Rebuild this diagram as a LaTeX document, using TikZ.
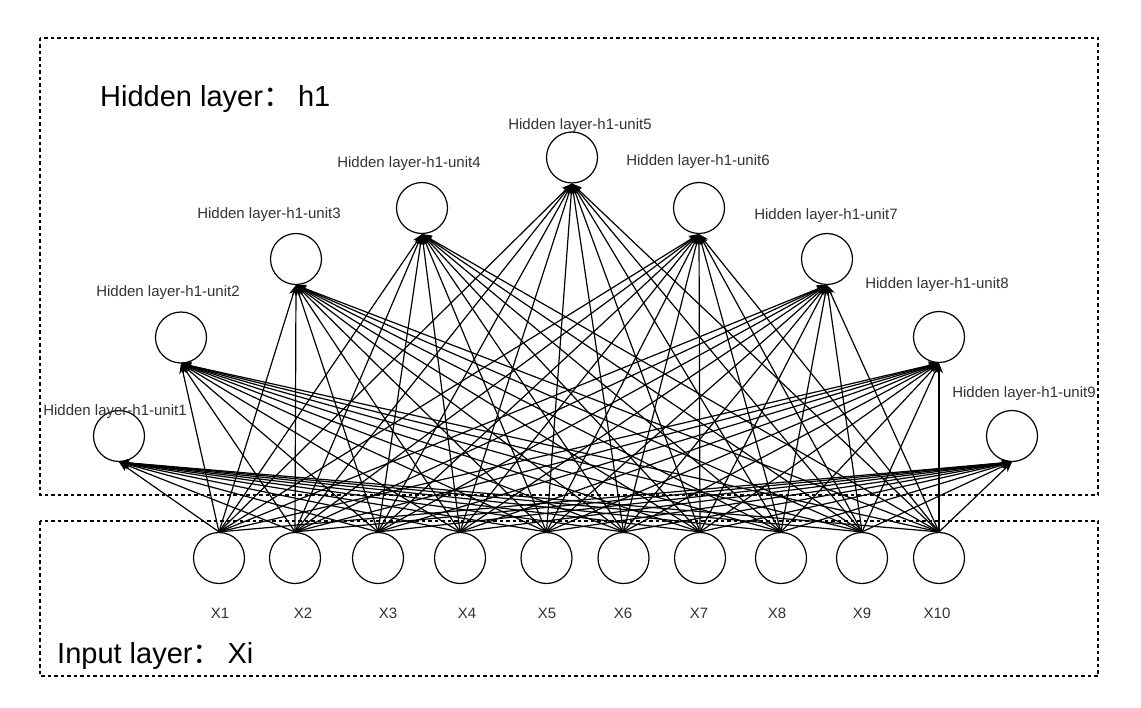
\documentclass[tikz,border=0pt]{standalone}
\usepackage{fontspec}
\setmainfont{Liberation Sans}
\newfontfamily\cjk{Noto Sans CJK SC}
\usetikzlibrary{arrows.meta}
\begin{document}
\begin{tikzpicture}[x=1pt,y=-1pt,
  unit/.style={circle,draw,line width=1.2pt,minimum size=51pt,inner sep=0pt},
  lbl/.style={font=\fontsize{15}{17}\selectfont,text=black!80,inner sep=0pt,anchor=base},
  title/.style={font=\fontsize{29}{33}\selectfont,inner sep=0pt,anchor=base west},
  box/.style={draw,line width=1.1pt,dash pattern=on 3.5pt off 3pt},
  conn/.style={line width=1.2pt,-{Stealth[length=10pt,width=8pt,inset=3pt]}}]
\useasboundingbox (0,0) rectangle (1141,708);
\fill[white] (0,0) rectangle (1141,708);
% layer boxes
\draw[box] (40,38) rectangle (1098,495);
\draw[box] (40,521) rectangle (1098,676);
\node[title] (ht) at (100,107) {Hidden layer{\cjk ：}\hspace{6pt}h1};
\node[title] (it) at (57,663) {Input layer{\cjk ：}\hspace{6pt}Xi};
% hidden units
\foreach \i/\x/\y/\lx/\ly in {1/119/436/115/416, 2/181/337.5/168/297, 3/296/259/269/219, 4/422/208/409/168, 5/572/157.5/580/130, 6/699/208/698/166, 7/827/259/826/220, 8/939/337/937/289, 9/1012/436/1024/398}{
  \node[unit] (h\i) at (\x,\y) {};
  \node[lbl] (hl\i) at (\lx,\ly) {Hidden layer-h1-unit\i};
}
% input units
\foreach \i/\x/\lx in {1/219/220, 2/295/303, 3/378/388, 4/460/467, 5/546.5/547, 6/623.5/623, 7/700/699, 8/781/777, 9/862/862, 10/939/937}{
  \node[unit] (x\i) at (\x,558) {};
  \node[lbl] (xl\i) at (\lx,618) {X\i};
}
% connections
\foreach \i in {1,...,10}{
  \foreach \j in {1,...,9}{
    \draw[conn] (x\i.north) -- (h\j.south);
  }
}
\end{tikzpicture}
\end{document}
